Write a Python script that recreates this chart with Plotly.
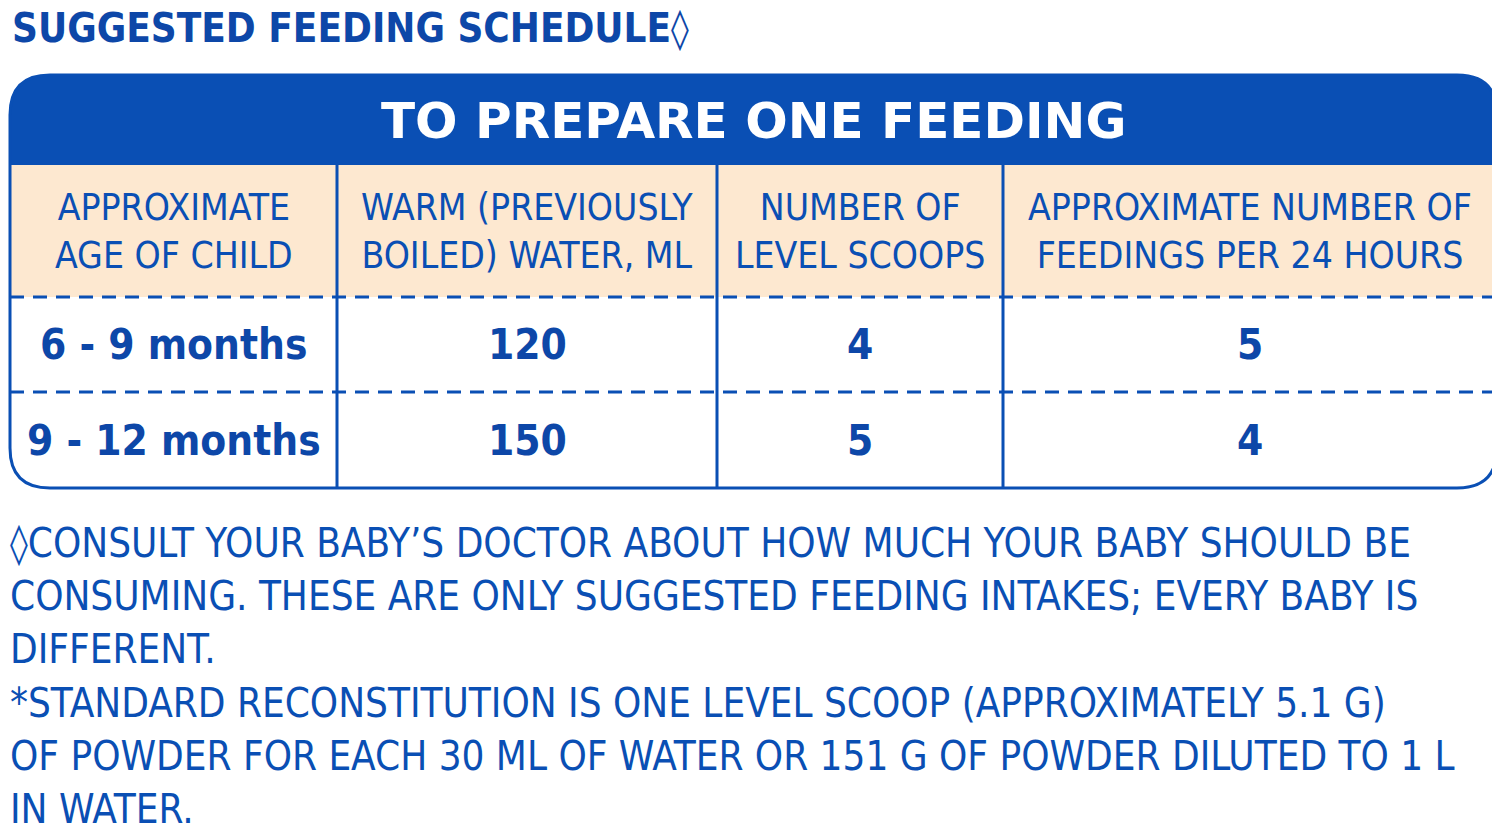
import plotly.graph_objects as go

title = "SUGGESTED FEEDING SCHEDULE\u25CA"
band = "TO PREPARE ONE FEEDING"
headers = ["APPROXIMATE<br>AGE OF CHILD", "WARM (PREVIOUSLY<br>BOILED) WATER, ML",
           "NUMBER OF<br>LEVEL SCOOPS", "APPROXIMATE NUMBER OF<br>FEEDINGS PER 24 HOURS"]
ages = ["6 - 9 months", "9 - 12 months"]
water_ml = [120, 150]
scoops = [4, 5]
feedings = [5, 4]
notes = ["\u25CACONSULT YOUR BABY\u2019S DOCTOR ABOUT HOW MUCH YOUR BABY SHOULD BE",
         "CONSUMING. THESE ARE ONLY SUGGESTED FEEDING INTAKES; EVERY BABY IS",
         "DIFFERENT.",
         "*STANDARD RECONSTITUTION IS ONE LEVEL SCOOP (APPROXIMATELY 5.1 G)",
         "OF POWDER FOR EACH 30 ML OF WATER OR 151 G OF POWDER DILUTED TO 1 L",
         "IN WATER."]

BLUE = "#0a4fb4"
DARK = "#0d47a8"
PEACH = "#fde8d0"
FONT = "DejaVu Sans Condensed, Liberation Sans Narrow, sans-serif"

L, R, T, B, r = 10, 1497, 75, 488, 40
HB = 165
HR = 297
cols = [L, 337, 717, 1003, R]
rows_y = [HR, 392, B]

fig = go.Figure()
shapes = []
shapes.append(dict(type="rect", x0=L, x1=R, y0=HB, y1=HR, fillcolor=PEACH, line_width=0, layer="below"))
shapes.append(dict(type="path", path=f"M{L},{HB} L{L},{T+r} Q{L},{T} {L+r},{T} L{R-r},{T} Q{R},{T} {R},{T+r} L{R},{HB} Z",
                   fillcolor=BLUE, line_width=0))
shapes.append(dict(type="path", path=f"M{L},{T+r} Q{L},{T} {L+r},{T} L{R-r},{T} Q{R},{T} {R},{T+r} L{R},{B-r} Q{R},{B} {R-r},{B} L{L+r},{B} Q{L},{B} {L},{B-r} Z",
                   line=dict(color=BLUE, width=3)))
for x in cols[1:-1]:
    shapes.append(dict(type="line", x0=x, x1=x, y0=HB, y1=B, line=dict(color=BLUE, width=3)))
for y in rows_y[:-1]:
    shapes.append(dict(type="line", x0=L, x1=R, y0=y, y1=y, line=dict(color=BLUE, width=3, dash="14px,9px")))

ann = []
ann.append(dict(x=10, y=28, text=f"<b>{title}</b>", xanchor="left", showarrow=False,
                font=dict(size=40, color=DARK, family=FONT)))
ann.append(dict(x=(L+R)/2, y=121, text=f"<b>{band}</b>", showarrow=False,
                font=dict(size=50, color="white", family="DejaVu Sans, sans-serif")))
for i, h in enumerate(headers):
    ann.append(dict(x=(cols[i]+cols[i+1])/2, y=231, text=h, showarrow=False,
                    font=dict(size=37, color=BLUE, family=FONT)))
for j in range(2):
    yc = (rows_y[j] + rows_y[j+1]) / 2
    vals = [ages[j], str(water_ml[j]), str(scoops[j]), str(feedings[j])]
    for i, v in enumerate(vals):
        ann.append(dict(x=(cols[i]+cols[i+1])/2, y=yc, text=f"<b>{v}</b>", showarrow=False,
                        font=dict(size=42, color=DARK, family=FONT)))
for k, n in enumerate(notes):
    ann.append(dict(x=8, y=543 + k*53.2, text=n, xanchor="left", showarrow=False,
                    font=dict(size=40, color=BLUE, family=FONT)))

fig.update_layout(width=1484, height=820, margin=dict(l=0, r=0, t=0, b=0),
                  paper_bgcolor="white", plot_bgcolor="white", shapes=shapes, annotations=ann,
                  xaxis=dict(range=[8, 1492], visible=False),
                  yaxis=dict(range=[828, 8], visible=False), showlegend=False)
fig.write_html("out.html")
